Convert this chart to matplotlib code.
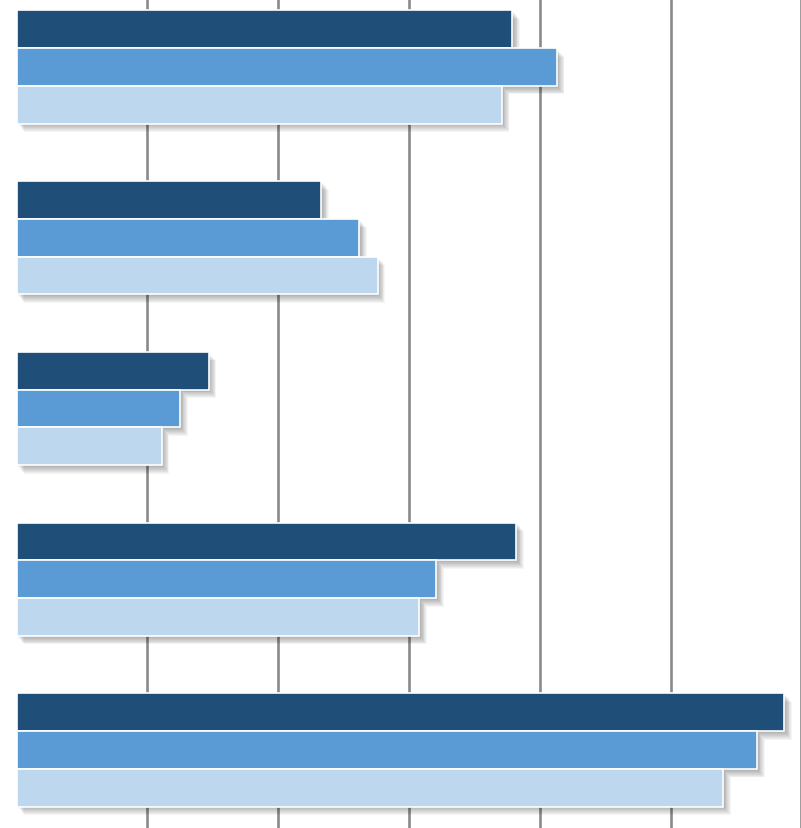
import numpy as np
import matplotlib
matplotlib.use("Agg")
import matplotlib.pyplot as plt
import matplotlib.patheffects as pe

# values, top group first
groups = ["G1", "G2", "G3", "G4", "G5"]
series_a = [3.79, 2.33, 1.47, 3.82, 5.87]   # dark blue
series_b = [4.13, 2.62, 1.25, 3.21, 5.66]   # mid blue
series_c = [3.71, 2.76, 1.11, 3.08, 5.40]   # light blue
grid_ticks = [1, 2, 3, 4, 5, 6]

colors = ["#1F4E79", "#5B9BD5", "#BDD7EE"]

fig = plt.figure(figsize=(8.01, 8.29), dpi=100)
ax = fig.add_axes([16.5 / 801, 0, 785.0 / 801, 1])

# soft drop shadow: a few faint offset copies, then the bar itself
shadow = [pe.SimplePatchShadow(offset=(o, -o * 1.15), shadow_rgbFace="k", alpha=0.04)
          for o in (0.6, 1.2, 1.8, 2.4, 3.0, 3.6, 4.2, 4.8, 5.4)] + [pe.Normal()]

y = np.arange(len(groups))
h = 0.221
for k, (vals, c) in enumerate(zip([series_a, series_b, series_c], colors)):
    bars = ax.barh(y + (k - 1) * h, vals, height=h, color=c,
                   edgecolor="white", linewidth=1.2, zorder=3 + k)
    for b in bars:
        b.set_path_effects(shadow)

for t in grid_ticks:
    ax.axvline(t, color="#8a8a8a", linewidth=1.9, zorder=1, clip_on=False)

ax.set_xlim(0, 6)
ax.set_ylim(4.457, -0.398)
ax.axis("off")

fig.savefig("out.png", dpi=100)
